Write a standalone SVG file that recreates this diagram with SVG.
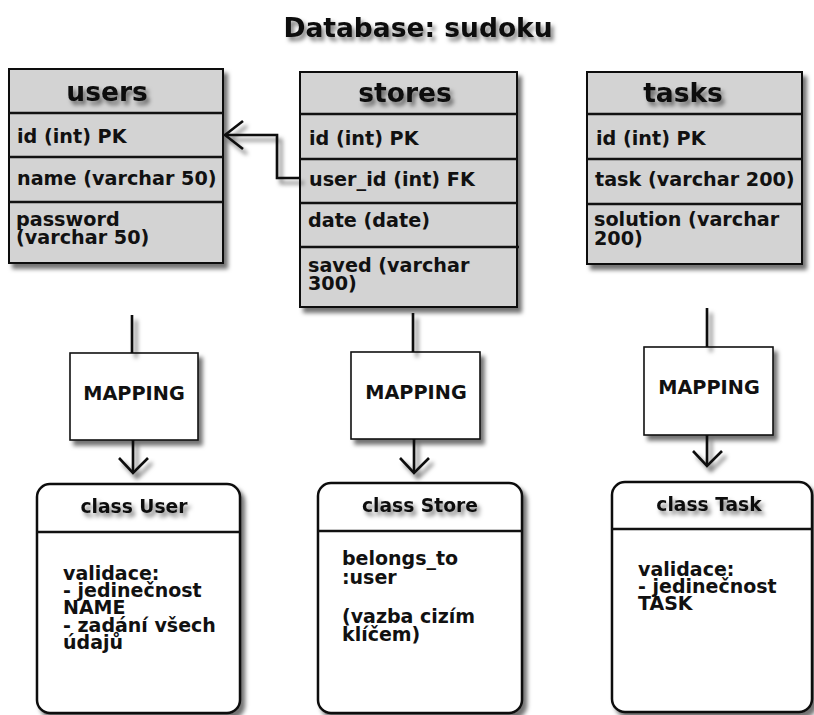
<svg xmlns="http://www.w3.org/2000/svg" width="814" height="715" viewBox="0 0 814 715">
<defs>
<filter id="sh" x="-10%" y="-10%" width="130%" height="130%">
<feDropShadow dx="4" dy="5" stdDeviation="2.2" flood-color="#000" flood-opacity="0.55"/>
</filter>
<filter id="tsh" x="-10%" y="-30%" width="130%" height="180%">
<feDropShadow dx="3" dy="4" stdDeviation="2" flood-color="#000" flood-opacity="0.5"/>
</filter>
<style>
text{font-family:"DejaVu Sans",Verdana,sans-serif;font-weight:bold;fill:#111}
.tbl{fill:#d3d3d3;stroke:#111;stroke-width:2}
.sep{stroke:#111;stroke-width:2.5;fill:none}
.hd{font-size:26.5px;text-anchor:middle}
.row{font-size:19.2px}
.ttl{font-size:26.5px;text-anchor:middle}
.map{fill:#fff;stroke:#111;stroke-width:1.6}
.mt{font-size:19.3px;text-anchor:middle}
.cls{fill:#fff;stroke:#111;stroke-width:2.5}
.ct{font-size:18.7px;text-anchor:middle}
.body{font-size:19px}
.ln{fill:none;stroke:#111;stroke-width:2.6}
</style>
</defs>
<rect width="814" height="715" fill="#fff"/>
<text class="ttl" x="418" y="37" filter="url(#tsh)">Database: sudoku</text>

<g id="users">
<rect class="tbl" x="9" y="69" width="214" height="194" filter="url(#sh)"/>
<line class="sep" x1="9" y1="113" x2="223" y2="113"/>
<line class="sep" x1="9" y1="157" x2="223" y2="157"/>
<line class="sep" x1="9" y1="202" x2="223" y2="202"/>
<text class="hd" x="107" y="101" filter="url(#tsh)">users</text>
<text class="row" x="17" y="143">id (int) PK</text>
<text class="row" x="17" y="185">name (varchar 50)</text>
<text class="row" x="16" y="226">password</text>
<text class="row" x="16" y="244">(varchar 50)</text>
</g>

<g id="stores">
<rect class="tbl" x="300" y="72" width="217" height="235" filter="url(#sh)"/>
<line class="sep" x1="300" y1="114" x2="517" y2="114"/>
<line class="sep" x1="300" y1="159" x2="517" y2="159"/>
<line class="sep" x1="300" y1="203" x2="517" y2="203"/>
<line class="sep" x1="300" y1="247" x2="519" y2="247"/>
<text class="hd" x="405" y="102" filter="url(#tsh)">stores</text>
<text class="row" x="309" y="145">id (int) PK</text>
<text class="row" x="309" y="186">user_id (int) FK</text>
<text class="row" x="308" y="227">date (date)</text>
<text class="row" x="308" y="272">saved (varchar</text>
<text class="row" x="308" y="290">300)</text>
</g>

<g id="tasks">
<rect class="tbl" x="587" y="72" width="215" height="192" filter="url(#sh)"/>
<line class="sep" x1="587" y1="114" x2="802" y2="114"/>
<line class="sep" x1="587" y1="159" x2="802" y2="159"/>
<line class="sep" x1="587" y1="204" x2="802" y2="204"/>
<text class="hd" x="683" y="102" filter="url(#tsh)">tasks</text>
<text class="row" x="596" y="145">id (int) PK</text>
<text class="row" x="595" y="186">task (varchar 200)</text>
<text class="row" x="594" y="226">solution (varchar</text>
<text class="row" x="594" y="245">200)</text>
</g>

<g id="mapping-users">
<rect class="map" x="70" y="353" width="128" height="87" filter="url(#sh)"/>
<text class="mt" x="134" y="400">MAPPING</text>
</g>
<g id="mapping-stores">
<rect class="map" x="351" y="352" width="129" height="87" filter="url(#sh)"/>
<text class="mt" x="416" y="399">MAPPING</text>
</g>
<g id="mapping-tasks">
<rect class="map" x="644" y="347" width="129" height="88" filter="url(#sh)"/>
<text class="mt" x="709" y="394">MAPPING</text>
</g>

<g id="class-user">
<rect class="cls" x="37" y="484" width="203" height="229" rx="13" filter="url(#sh)"/>
<line class="sep" x1="37" y1="532" x2="240" y2="532"/>
<text class="ct" x="134" y="513" filter="url(#tsh)">class User</text>
<text class="body" x="63" y="580">validace:</text>
<text class="body" x="63" y="597">- jedinečnost</text>
<text class="body" x="63" y="614">NAME</text>
<text class="body" x="63" y="632">- zadání všech</text>
<text class="body" x="63" y="649">údajů</text>
</g>

<g id="class-store">
<rect class="cls" x="318" y="483" width="204" height="230" rx="13" filter="url(#sh)"/>
<line class="sep" x1="318" y1="531" x2="522" y2="531"/>
<text class="ct" x="420" y="512" filter="url(#tsh)">class Store</text>
<text class="body" x="342" y="565">belongs_to</text>
<text class="body" x="342" y="584">:user</text>
<text class="body" x="342" y="623">(vazba cizím</text>
<text class="body" x="342" y="641">klíčem)</text>
</g>

<g id="class-task">
<rect class="cls" x="612" y="482" width="200" height="230" rx="13" filter="url(#sh)"/>
<line class="sep" x1="612" y1="529" x2="812" y2="529"/>
<text class="ct" x="709" y="511" filter="url(#tsh)">class Task</text>
<text class="body" x="638" y="576">validace:</text>
<text class="body" x="638" y="593">- jedinečnost</text>
<text class="body" x="638" y="610">TASK</text>
</g>

<g id="connectors" filter="url(#sh)">
<polyline class="ln" points="300,178 277,178 277,135 225,135"/>
<polyline class="ln" points="243,121 225,135 243,149"/>
<line class="ln" x1="132" y1="315" x2="132" y2="353"/>
<line class="ln" x1="133" y1="440" x2="133" y2="473"/>
<polyline class="ln" points="119,458 133,473 148,458"/>
<line class="ln" x1="413" y1="313" x2="413" y2="352"/>
<line class="ln" x1="414" y1="439" x2="414" y2="473"/>
<polyline class="ln" points="400,458 414,473 429,458"/>
<line class="ln" x1="707" y1="308" x2="707" y2="347"/>
<line class="ln" x1="707" y1="435" x2="707" y2="466"/>
<polyline class="ln" points="693,451 707,466 722,451"/>
</g>
</svg>
